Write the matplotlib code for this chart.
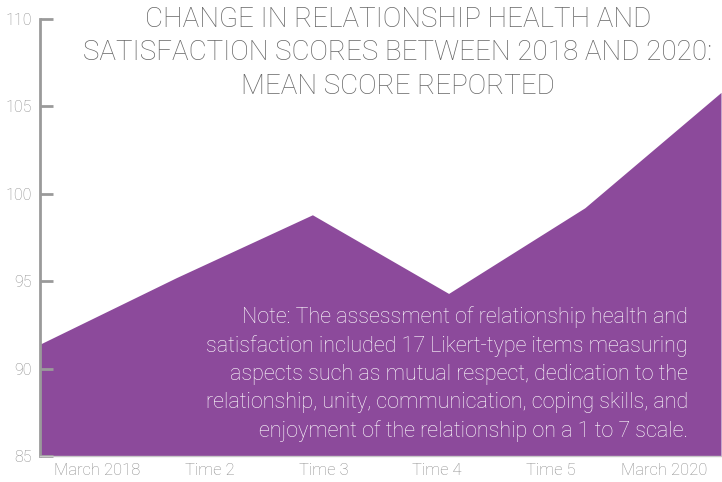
import matplotlib
matplotlib.use("Agg")
import matplotlib.pyplot as plt
import numpy as np

categories = ["March 2018", "Time 2", "Time 3", "Time 4", "Time 5", "March 2020"]
scores = [91.4, 95.2, 98.8, 94.3, 99.2, 105.8]
y_ticks = [85, 90, 95, 100, 105, 110]

title = "CHANGE IN RELATIONSHIP HEALTH AND\nSATISFACTION SCORES BETWEEN 2018 AND 2020:\nMEAN SCORE REPORTED"
note = ("Note: The assessment of relationship health and\n"
        "satisfaction included 17 Likert-type items measuring\n"
        "aspects such as mutual respect, dedication to the\n"
        "relationship, unity, communication, coping skills, and\n"
        "enjoyment of the relationship on a 1 to 7 scale.")

plt.rcParams['font.family'] = ['Roboto', 'DejaVu Sans']

fig = plt.figure(figsize=(7.22, 4.82), dpi=100)
ax = fig.add_axes([40/722, 26/482, 681/722, 437/482])

n = len(categories)
xpts = np.linspace(0, n, n)
ax.fill_between(xpts, scores, 85, color="#8C4A9B", linewidth=0)

ax.set_xlim(0, n)
ax.set_ylim(85, 110)
ax.set_yticks(y_ticks)
ax.set_yticklabels([str(v) for v in y_ticks], fontsize=11.5, color="#8a8a8a", fontweight='light')
ax.set_xticks(np.arange(n) + 0.5)
ax.set_xticklabels(categories, fontsize=12, color="#8a8a8a", fontweight='light')
ax.tick_params(axis='y', direction='in', length=9, width=2, color="#9a9a9a", pad=6)
ax.tick_params(axis='x', length=0, pad=5)

for s in ['top', 'right']:
    ax.spines[s].set_visible(False)
ax.spines['left'].set_color("#9a9a9a")
ax.spines['left'].set_linewidth(2)
ax.spines['bottom'].set_color("#c8c8c8")
ax.spines['bottom'].set_linewidth(1)

fig.text(398/722, 1 - 6/482, title, ha='center', va='top', fontsize=20,
         color="#666666", fontweight='light', linespacing=1.3)

fig.text(688/722, 1 - 306/482, note, ha='right', va='top', fontsize=15.5,
         color="white", fontweight='light', multialignment='right', linespacing=1.43)

fig.savefig("out.png", dpi=100)
